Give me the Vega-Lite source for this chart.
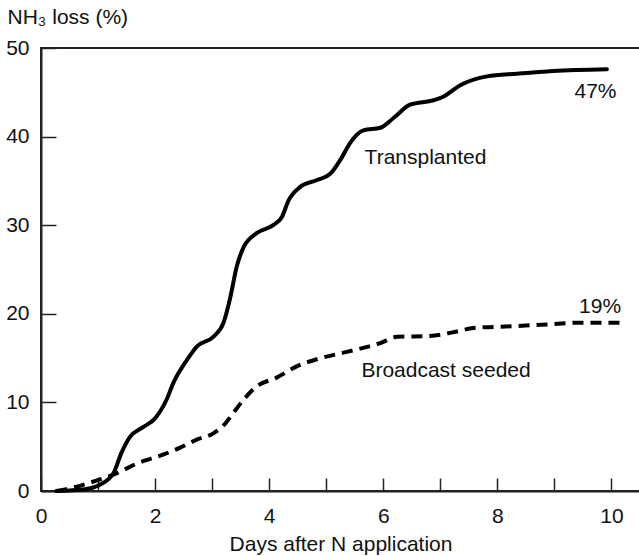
{
  "$schema": "https://vega.github.io/schema/vega-lite/v6.json",
  "width": 599,
  "height": 443,
  "autosize": {"type": "none"},
  "padding": {"left": 41, "top": 48, "right": 0, "bottom": 65},
  "background": "white",
  "config": {
    "font": "Liberation Sans",
    "view": {"stroke": "#222", "strokeWidth": 2},
    "axis": {
      "labelFont": "Liberation Sans", "titleFont": "Liberation Sans",
      "labelFontSize": 21, "titleFontSize": 21, "labelColor": "#111", "titleColor": "#111",
      "titleFontWeight": "normal", "domainColor": "#222", "domainWidth": 2,
      "tickColor": "#222", "tickWidth": 1.5, "grid": false, "labelFlush": false
    }
  },
  "datasets": {
    "curves": [
      {"day": 0.27, "loss": 0.0, "series": "Transplanted"},
      {"day": 0.77, "loss": 0.2, "series": "Transplanted"},
      {"day": 1.03, "loss": 0.7, "series": "Transplanted"},
      {"day": 1.27, "loss": 2.0, "series": "Transplanted"},
      {"day": 1.41, "loss": 4.3, "series": "Transplanted"},
      {"day": 1.56, "loss": 6.1, "series": "Transplanted"},
      {"day": 1.79, "loss": 7.2, "series": "Transplanted"},
      {"day": 2.0, "loss": 8.2, "series": "Transplanted"},
      {"day": 2.2, "loss": 10.3, "series": "Transplanted"},
      {"day": 2.32, "loss": 12.2, "series": "Transplanted"},
      {"day": 2.56, "loss": 14.8, "series": "Transplanted"},
      {"day": 2.73, "loss": 16.3, "series": "Transplanted"},
      {"day": 3.02, "loss": 17.4, "series": "Transplanted"},
      {"day": 3.2, "loss": 19.0, "series": "Transplanted"},
      {"day": 3.32, "loss": 21.9, "series": "Transplanted"},
      {"day": 3.43, "loss": 25.3, "series": "Transplanted"},
      {"day": 3.55, "loss": 27.5, "series": "Transplanted"},
      {"day": 3.78, "loss": 29.1, "series": "Transplanted"},
      {"day": 4.07, "loss": 30.0, "series": "Transplanted"},
      {"day": 4.22, "loss": 30.9, "series": "Transplanted"},
      {"day": 4.34, "loss": 32.8, "series": "Transplanted"},
      {"day": 4.54, "loss": 34.3, "series": "Transplanted"},
      {"day": 4.84, "loss": 35.1, "series": "Transplanted"},
      {"day": 5.07, "loss": 35.8, "series": "Transplanted"},
      {"day": 5.25, "loss": 37.4, "series": "Transplanted"},
      {"day": 5.42, "loss": 39.3, "series": "Transplanted"},
      {"day": 5.65, "loss": 40.7, "series": "Transplanted"},
      {"day": 5.95, "loss": 41.0, "series": "Transplanted"},
      {"day": 6.18, "loss": 42.1, "series": "Transplanted"},
      {"day": 6.47, "loss": 43.6, "series": "Transplanted"},
      {"day": 6.88, "loss": 44.1, "series": "Transplanted"},
      {"day": 7.05, "loss": 44.5, "series": "Transplanted"},
      {"day": 7.35, "loss": 45.8, "series": "Transplanted"},
      {"day": 7.82, "loss": 46.8, "series": "Transplanted"},
      {"day": 8.35, "loss": 47.1, "series": "Transplanted"},
      {"day": 8.98, "loss": 47.4, "series": "Transplanted"},
      {"day": 9.92, "loss": 47.6, "series": "Transplanted"},
      {"day": 0.27, "loss": 0.0, "series": "Broadcast seeded"},
      {"day": 0.63, "loss": 0.5, "series": "Broadcast seeded"},
      {"day": 0.98, "loss": 1.2, "series": "Broadcast seeded"},
      {"day": 1.33, "loss": 2.0, "series": "Broadcast seeded"},
      {"day": 1.68, "loss": 3.1, "series": "Broadcast seeded"},
      {"day": 2.14, "loss": 4.1, "series": "Broadcast seeded"},
      {"day": 2.44, "loss": 4.9, "series": "Broadcast seeded"},
      {"day": 2.73, "loss": 5.8, "series": "Broadcast seeded"},
      {"day": 3.02, "loss": 6.5, "series": "Broadcast seeded"},
      {"day": 3.2, "loss": 7.4, "series": "Broadcast seeded"},
      {"day": 3.37, "loss": 8.8, "series": "Broadcast seeded"},
      {"day": 3.55, "loss": 10.3, "series": "Broadcast seeded"},
      {"day": 3.78, "loss": 11.8, "series": "Broadcast seeded"},
      {"day": 4.13, "loss": 12.8, "series": "Broadcast seeded"},
      {"day": 4.49, "loss": 14.1, "series": "Broadcast seeded"},
      {"day": 4.85, "loss": 14.9, "series": "Broadcast seeded"},
      {"day": 5.36, "loss": 15.7, "series": "Broadcast seeded"},
      {"day": 5.95, "loss": 16.7, "series": "Broadcast seeded"},
      {"day": 6.24, "loss": 17.4, "series": "Broadcast seeded"},
      {"day": 6.82, "loss": 17.5, "series": "Broadcast seeded"},
      {"day": 7.29, "loss": 18.0, "series": "Broadcast seeded"},
      {"day": 7.58, "loss": 18.4, "series": "Broadcast seeded"},
      {"day": 8.28, "loss": 18.6, "series": "Broadcast seeded"},
      {"day": 8.87, "loss": 18.8, "series": "Broadcast seeded"},
      {"day": 9.46, "loss": 19.0, "series": "Broadcast seeded"},
      {"day": 10.16, "loss": 19.0, "series": "Broadcast seeded"}
    ],
    "labels": [
      {"day": 6.74, "loss": 37.6, "text": "Transplanted"},
      {"day": 7.1, "loss": 13.5, "text": "Broadcast seeded"},
      {"day": 9.72, "loss": 45.0, "text": "47%"},
      {"day": 9.8, "loss": 20.8, "text": "19%"}
    ]
  },
  "encoding": {
    "x": {
      "field": "day", "type": "quantitative",
      "scale": {"domain": [0, 10.5], "nice": false, "zero": false},
      "axis": {
        "title": "Days after N application",
        "values": [0, 1, 2, 3, 4, 5, 6, 7, 8, 9, 10],
        "labelExpr": "datum.value % 2 === 0 ? datum.label : ''",
        "tickSize": -13, "labelPadding": 27, "titlePadding": 7
      }
    },
    "y": {
      "field": "loss", "type": "quantitative",
      "scale": {"domain": [0, 50], "nice": false},
      "axis": {
        "title": "NH₃ loss (%)",
        "values": [0, 10, 20, 30, 40, 50],
        "tickSize": -15, "labelPadding": 27,
        "titleAngle": 0, "titleAlign": "left", "titleBaseline": "alphabetic",
        "titleX": -34, "titleY": -25
      }
    }
  },
  "layer": [
    {
      "data": {"name": "curves"},
      "transform": [{"filter": "datum.series === 'Transplanted'"}],
      "mark": {"type": "line", "interpolate": "monotone", "color": "#000", "strokeWidth": 4, "strokeCap": "round"}
    },
    {
      "data": {"name": "curves"},
      "transform": [{"filter": "datum.series === 'Broadcast seeded'"}],
      "mark": {"type": "line", "interpolate": "monotone", "color": "#000", "strokeWidth": 4, "strokeDash": [11, 7]}
    },
    {
      "data": {"name": "labels"},
      "mark": {"type": "text", "fontSize": 21, "color": "#111", "font": "Liberation Sans"},
      "encoding": {"text": {"field": "text", "type": "nominal"}}
    }
  ]
}
